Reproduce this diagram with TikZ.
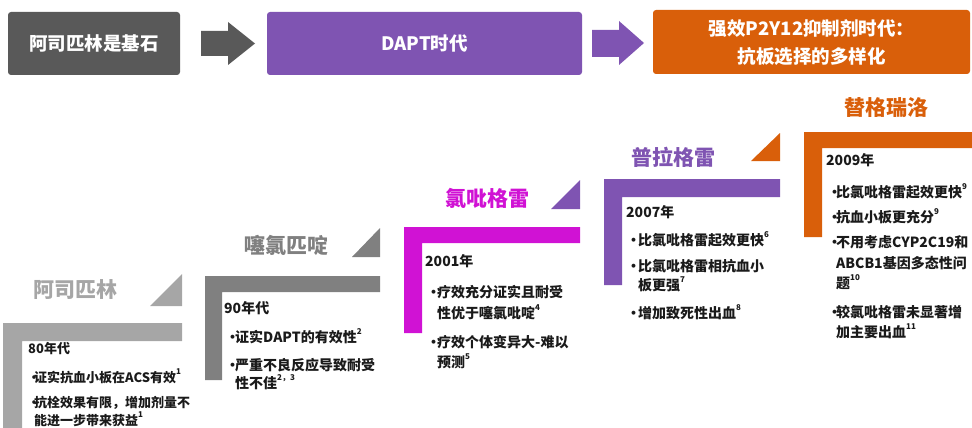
\documentclass[tikz,border=0pt]{standalone}
\usepackage{fontspec}
\setmainfont{Noto Sans CJK SC}
\definecolor{boxgray}{HTML}{595959}
\definecolor{dpurple}{HTML}{7F54B2}
\definecolor{dorange}{HTML}{D95F0A}
\definecolor{dmagenta}{HTML}{D012D4}
\definecolor{lgray}{HTML}{A6A6A6}
\definecolor{mgray}{HTML}{808080}
\definecolor{ink}{HTML}{1A1A1A}
\newcommand\up[1]{\raisebox{0.55em}{\fontsize{8}{8}\selectfont #1}}
\begin{document}
\begin{tikzpicture}[x=1pt,y=-1pt,
  titletext/.style={font=\bfseries\fontsize{18.5}{28}\selectfont, text=white, align=center, inner sep=0},
  lbl/.style={font=\bfseries\fontsize{21}{24}\selectfont, inner sep=0},
  body/.style={font=\bfseries\fontsize{14}{16}\selectfont, text=ink, anchor=base west, inner sep=0},
  bodysm/.style={body, font=\bfseries\fontsize{13}{15}\selectfont},
  bul/.style={body, text=ink}]
\useasboundingbox (0,0) rectangle (972,428);
% ---- top bar ----
\fill[boxgray, rounded corners=3pt] (8,12) rectangle (180,75);
\node[titletext] (t1) at (94,43.5) {阿司匹林是基石};
\fill[boxgray] (201,31) -- (228,31) -- (228,22) -- (255,43.5) -- (228,65) -- (228,56) -- (201,56) -- cycle;
\fill[dpurple, rounded corners=3pt] (267,12) rectangle (582,75);
\node[titletext] (t2) at (424.5,43.5) {DAPT时代};
\fill[dpurple] (592,30) -- (619,30) -- (619,21) -- (644,43) -- (619,65) -- (619,57) -- (592,57) -- cycle;
\fill[dorange, rounded corners=3pt] (653,10) rectangle (970,74);
\node[titletext] (t3) at (811.5,43) {强效P2Y12抑制剂时代：\\抗板选择的多样化};
% ---- step shapes ----
\fill[lgray] (3,323) -- (182,323) -- (182,341) -- (22,341) -- (22,428) -- (3,428) -- cycle;
\fill[lgray] (150,306) -- (182,306) -- (182,274) -- cycle;
\fill[mgray] (205,276) -- (380,276) -- (380,292) -- (222,292) -- (222,380) -- (205,380) -- cycle;
\fill[mgray] (352,257) -- (380,257) -- (380,228) -- cycle;
\fill[dmagenta] (404,227) -- (580,227) -- (580,243) -- (422,243) -- (422,333) -- (404,333) -- cycle;
\fill[dpurple] (551,209) -- (580,209) -- (580,180) -- cycle;
\fill[dpurple] (604,179) -- (780,179) -- (780,197) -- (622,197) -- (622,285) -- (604,285) -- cycle;
\fill[dorange] (751,161) -- (780,161) -- (780,133) -- cycle;
\fill[dorange] (804,132) -- (972,132) -- (972,148) -- (822,148) -- (822,237) -- (804,237) -- cycle;
% ---- labels ----
\node[lbl, text=lgray] (l1) at (75,290) {阿司匹林};
\node[lbl, text=mgray] (l2) at (286.5,245) {噻氯匹啶};
\node[lbl, text=dmagenta] (l3) at (487.5,198) {氯吡格雷};
\node[lbl, text=dpurple] (l4) at (673,157) {普拉格雷};
\node[lbl, text=dorange] (l5) at (886,108) {替格瑞洛};
% ---- step 1 ----
\node[bodysm] (y1) at (28,353) {80年代};
\node[bodysm] (b1a) at (27.5,382) {•};
\node[bodysm] (s1a) at (34,382) {证实抗血小板在ACS有效\up{1}};
\node[bodysm] (b1b) at (27.5,407) {•};
\node[bodysm] (s1b) at (34,407) {抗栓效果有限，增加剂量不};
\node[bodysm] (s1c) at (34,425) {能进一步带来获益\up{1}};
% ---- step 2 ----
\node[body] (y2) at (224,313) {90年代};
\node[body] (b2a) at (225.5,342) {•};
\node[body] (s2a) at (235,342) {证实DAPT的有效性\up{2}};
\node[body] (b2b) at (225.5,370) {•};
\node[body] (s2b) at (235,370) {严重不良反应导致耐受};
\node[body] (s2c) at (235,388) {性不佳\up{2，3}};
% ---- step 3 ----
\node[body] (y3) at (425,266) {2001年};
\node[body] (b3a) at (426.5,297) {•};
\node[body] (s3a) at (437,297) {疗效充分证实且耐受};
\node[body] (s3b) at (437,318) {性优于噻氯吡啶\up{4}};
\node[body] (b3b) at (426.5,347) {•};
\node[body] (s3c) at (437,347) {疗效个体变异大-难以};
\node[body] (s3d) at (437,367) {预测\up{5}};
% ---- step 4 ----
\node[body] (y4) at (626,217) {2007年};
\node[body] (b4a) at (626.5,245) {•};
\node[body] (s4a) at (638,245) {比氯吡格雷起效更快\up{6}};
\node[body] (b4b) at (626.5,271) {•};
\node[body] (s4b) at (638,271) {比氯吡格雷相抗血小};
\node[body] (s4c) at (638,290) {板更强\up{7}};
\node[body] (b4c) at (626.5,318) {•};
\node[body] (s4d) at (638,318) {增加致死性出血\up{8}};
% ---- step 5 ----
\node[body] (y5) at (826,165) {2009年};
\node[body] (b5a) at (827.5,197) {•};
\node[body] (s5a) at (836,197) {比氯吡格雷起效更快\up{9}};
\node[body] (b5b) at (827.5,222) {•};
\node[body] (s5b) at (836,222) {抗血小板更充分\up{9}};
\node[body] (b5c) at (827.5,247) {•};
\node[body] (s5c) at (836,247) {不用考虑CYP2C19和};
\node[body] (s5d) at (836,268) {ABCB1基因多态性问};
\node[body] (s5e) at (836,288) {题\up{10}};
\node[body] (b5d) at (827.5,317) {•};
\node[body] (s5f) at (836,317) {较氯吡格雷未显著增};
\node[body] (s5g) at (836,337) {加主要出血\up{11}};
\end{tikzpicture}
\end{document}
